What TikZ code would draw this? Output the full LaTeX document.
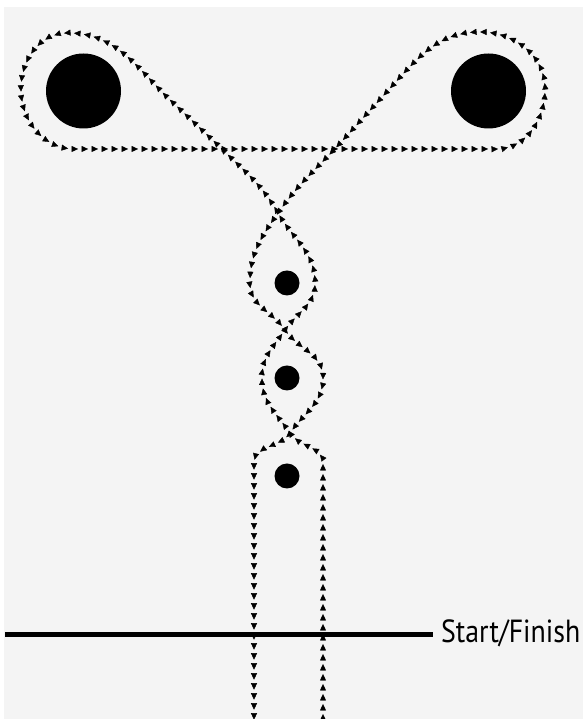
\documentclass[tikz,border=0pt]{standalone}
\usepackage{fontspec}
\setsansfont{PT Sans}
\usetikzlibrary{arrows.meta,decorations.markings}
\definecolor{paper}{HTML}{F4F4F4}

\begin{document}
\begin{tikzpicture}[x=1pt,y=1pt,
  trail/.style={decorate,decoration={markings,
    mark=between positions 0 and 1 step 10pt with {\arrow{Triangle[length=6.5pt,width=6pt]}}}}]
  % page
  \useasboundingbox (0,0) rectangle (583,719);
  \fill[white] (0,0) rectangle (583,719);
  \fill[paper] (4,0) rectangle (583,712);
  \clip (0,0) rectangle (583,719);
  % crossings of the trail
  \coordinate (X1) at (278,506);
  \coordinate (X2) at (285,389);
  \coordinate (X3) at (290,286);
  % big cones
  \fill (83.5,628) circle (37.5);
  \fill (488.5,628) circle (37.5);
  % small cones
  \fill (287,436) circle (12.5);
  \fill (287,341) circle (12.5);
  \fill (287,243) circle (12.5);
  % trail
  \path[trail] (323,-5) -- (323,255) to[out=90,in=-55] (X3)
    to[out=125,in=-90] (262,341)
    to[out=90,in=-125] (X2)
    to[out=55,in=-90] (315,436)
    to[out=90,in=-60] (X1)
    to[out=120,in=-45] (220,572) -- (167,622)
    to[out=135,in=0] (68,686)
    to[out=180,in=90] (21,630)
    to[out=-90,in=180] (75,570) -- (496,570)
    to[out=0,in=-90] (545,630)
    to[out=90,in=0] (480,687)
    to[out=180,in=48] (393,634) -- (343,579)
    to[out=228,in=55] (X1)
    to[out=235,in=90] (250,436)
    to[out=-90,in=125] (X2)
    to[out=-55,in=90] (323,341)
    to[out=-90,in=55] (X3)
    to[out=-125,in=90] (254,255) -- (254,-5);
  % start / finish
  \node[font=\sffamily\fontsize{32}{38}\selectfont,xscale=0.87,anchor=base west,inner sep=0] (label) at (441,76) {Start/Finish};
  \draw[line width=5pt] (5,84) -- (433,84);
\end{tikzpicture}
\end{document}
